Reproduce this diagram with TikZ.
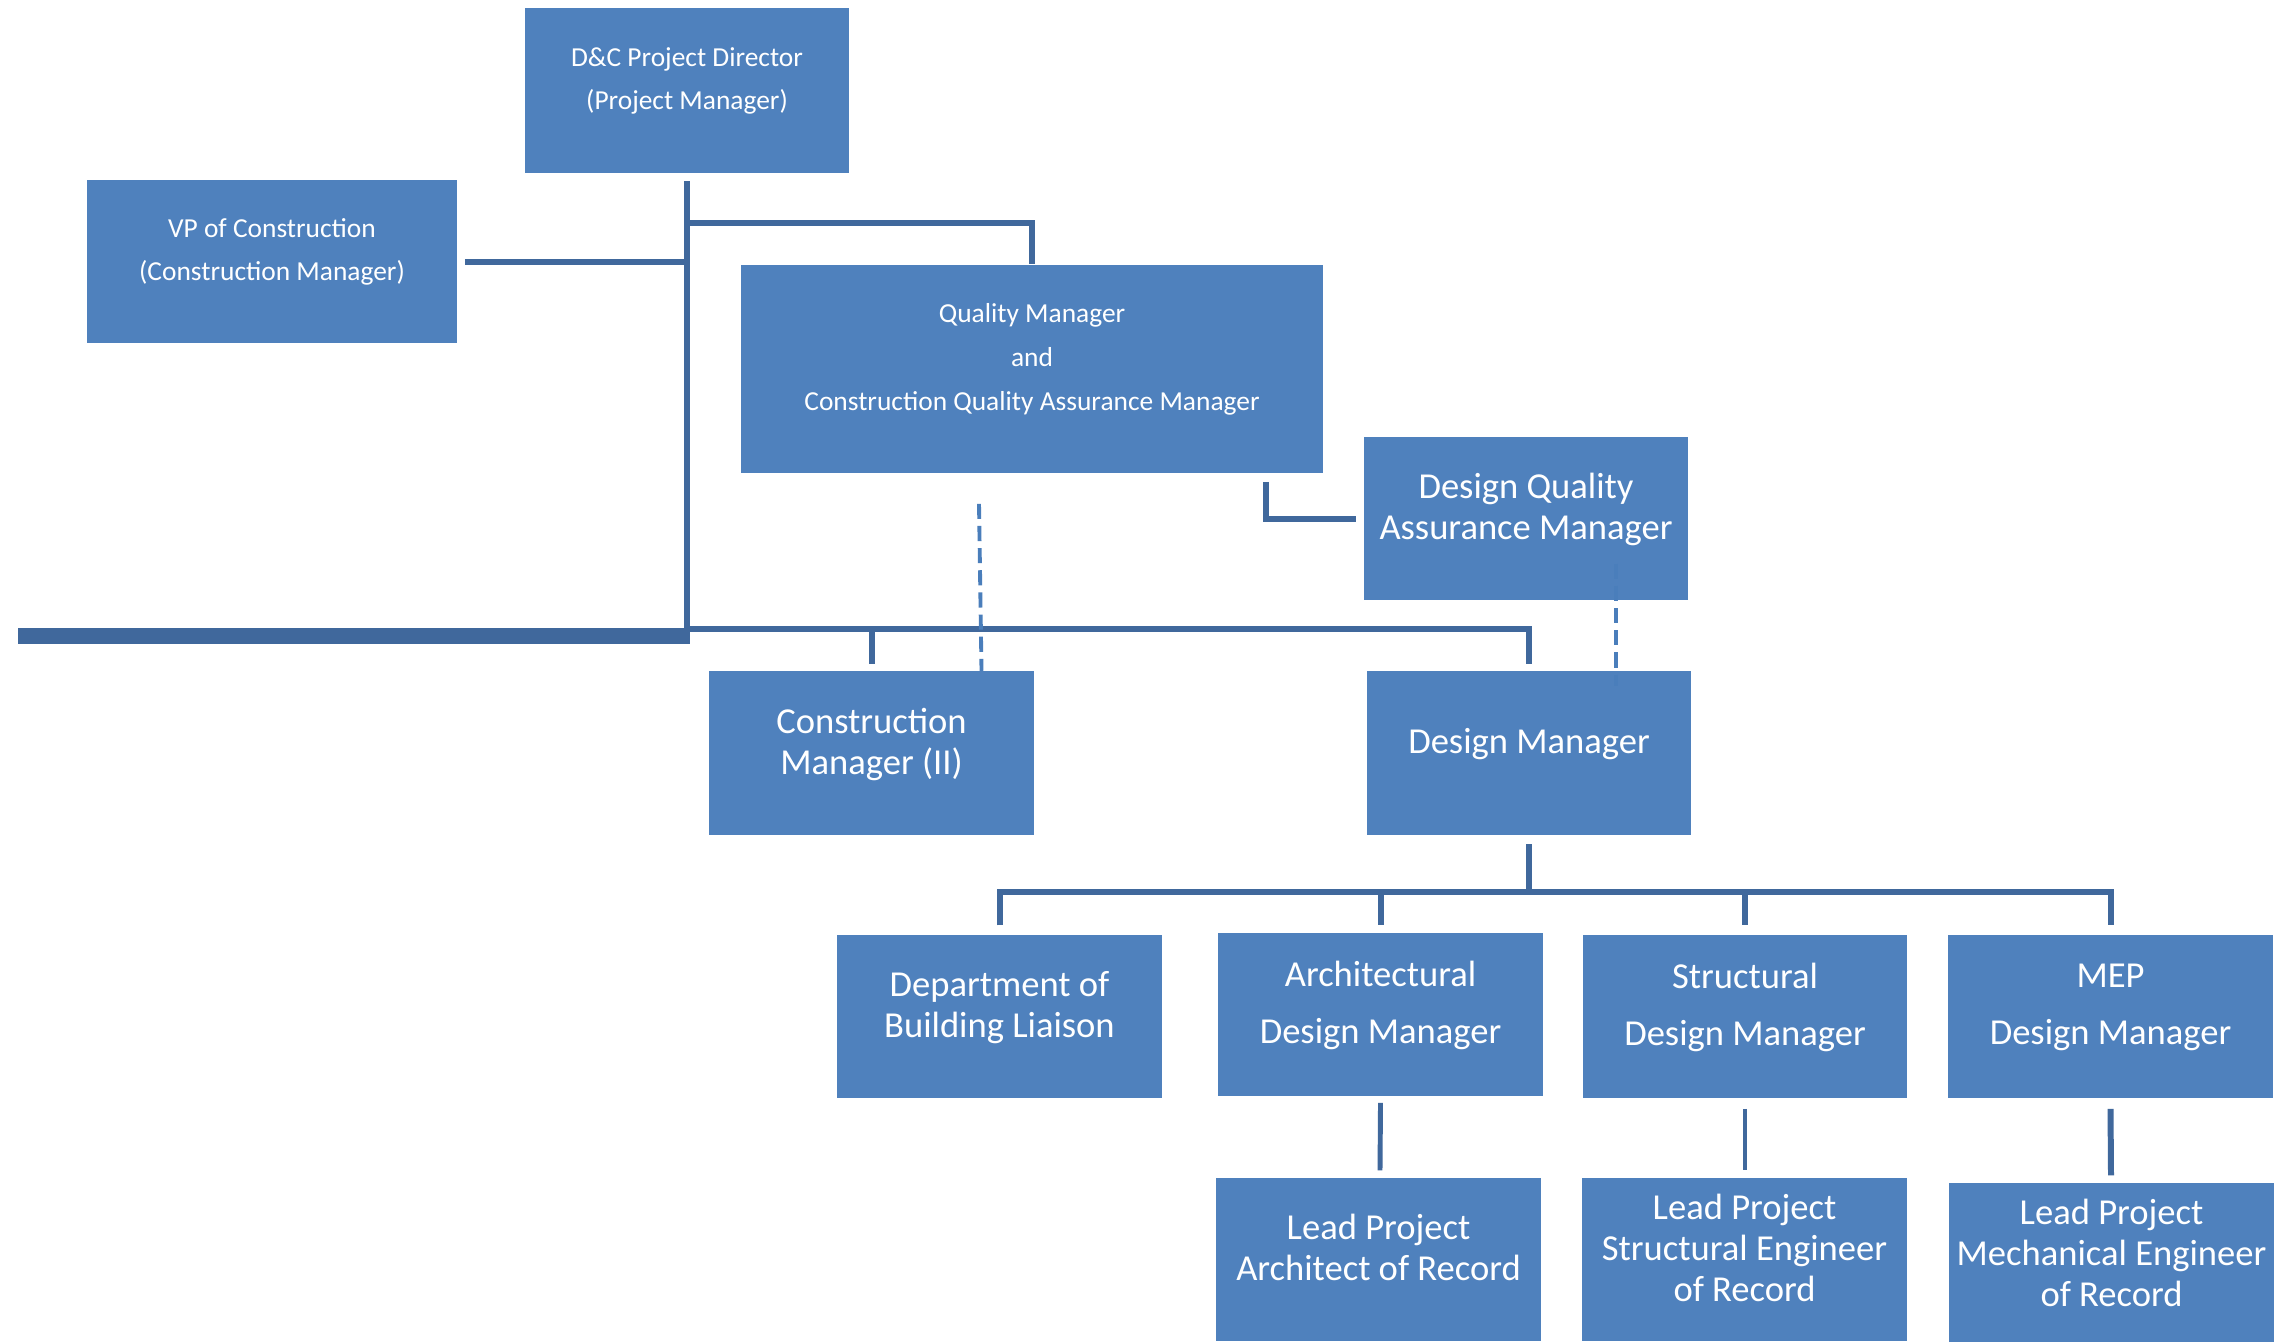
\documentclass[tikz,border=0pt]{standalone}
\usepackage{fontspec}
\setmainfont{Carlito}
\usepackage{xcolor}
\usetikzlibrary{calc}
\definecolor{boxblue}{HTML}{4F81BD}
\definecolor{linkblue}{HTML}{40689C}
\definecolor{dashblue}{HTML}{4A7EBB}
\newcommand{\bigsize}{\fontsize{10.4}{11.7}\selectfont}
\newcommand{\smallsize}{\fontsize{7.8}{12.4}\selectfont}
\tikzset{
    box/.style={fill=boxblue, text=white, align=center, inner sep=0pt,
        minimum width=3.24cm, minimum height=1.63cm, font=\bigsize},
    smallbox/.style={box, font=\smallsize},
    link/.style={draw=linkblue, line width=1.7pt},
    thinlink/.style={draw=linkblue, line width=1.4pt},
    dashlink/.style={draw=dashblue, line width=1.1pt, dash pattern=on 4.3pt off 2pt},
    bar/.style={draw=linkblue, line width=4.3pt}
}

\begin{document}
\begin{tikzpicture}[x=0.01cm,y=-0.01cm]
\clip (0,0) rectangle (2282,1341);
\fill[white] (0,0) rectangle (2282,1341);

\node[smallbox, minimum height=1.64cm] (pd) at (687,90.5) {D\&C Project Director\\(Project Manager)\\[-5.6pt]};
\node[smallbox, minimum width=3.70cm] (vp) at (272,261.5) {VP of Construction\\(Construction Manager)\\[-5.6pt]};
\node[smallbox, minimum width=5.82cm, minimum height=2.08cm] (qm) at (1032,369) {Quality Manager\\and\\Construction Quality Assurance Manager\\[-5.6pt]};
\node[box] (dqa) at (1526,518.5) {Design Quality\\Assurance Manager\\[-4.9pt]};
\node[box] (cm) at (871.5,753) {Construction\\Manager (II)\\[-4.9pt]};
\node[box] (dm) at (1529,753) {Design Manager\\[-4.9pt]};

\node[box] (dbl) at (999.5,1016.5) {Department of\\Building Liaison\\[-4.9pt]};
\node[box] (adm) at (1380.5,1014.5) {Architectural\\[4.5pt]Design Manager\\[-4.9pt]};
\node[box] (sdm) at (1745,1016.5) {Structural\\[4.5pt]Design Manager\\[-4.9pt]};
\node[box] (mdm) at (2110.5,1016.5) {MEP\\[4.5pt]Design Manager\\[-4.9pt]};

\node[box] (lpa) at (1378.5,1259.5) {Lead Project\\Architect of Record\\[-4.9pt]};
\node[box] (lps) at (1744.5,1259.5) {Lead Project\\Structural Engineer\\of Record\\[-4.9pt]};
\node[box] (lpm) at (2111.5,1264.5) {Lead Project\\Mechanical Engineer\\of Record\\[-4.9pt]};

\coordinate (base) at (687,636);
\coordinate (barw) at (18,636);
\coordinate (mid) at (687,629);
\coordinate (dmj) at ($(dm.south)+(0,57)$);

\draw[bar] (barw) -- ($(base)+(3,0)$);
\draw[link] ($(pd.south)+(0,8)$) -- ($(base)+(0,7)$);
\draw[link] ($(vp.east)+(7,0)$) -- (vp.east -| pd.south);
\draw[link] ($(pd.south)+(0,50)$) -| (qm.north);
\draw[link] (mid) -| ($(dm.north)+(0,-7)$);
\draw[link] (mid -| cm.north) -- ($(cm.north)+(0,-7)$);
\draw[link] ($(qm.south)+(234,8)$) |- ($(dqa.west)+(-7,0)$);

\draw[link] ($(dm.south)+(0,9)$) -- (dmj);
\draw[link] ($(dbl.north)+(0,-9)$) |- (dmj) -| ($(mdm.north)+(0,-9)$);
\draw[link] (adm.north |- dmj) -- ($(adm.north)+(0,-7)$);
\draw[link] (sdm.north |- dmj) -- ($(sdm.north)+(0,-9)$);

\draw[thinlink] ($(adm.south)+(0,6)$) -- ($(lpa.north)+(1.5,-7)$);
\draw[thinlink] ($(sdm.south)+(0,10)$) -- ($(lps.north)+(0.5,-7)$);
\draw[link] ($(mdm.south)+(0,10)$) -- ($(lpm.north)+(-0.5,-7)$);

\draw[dashlink] ($(qm.south)+(-53,30)$) -- ($(cm.north)+(110,0)$);
\draw[dashlink] ($(dqa.south)+(90,-37)$) -- ($(dm.north)+(87,15)$);
\end{tikzpicture}
\end{document}
